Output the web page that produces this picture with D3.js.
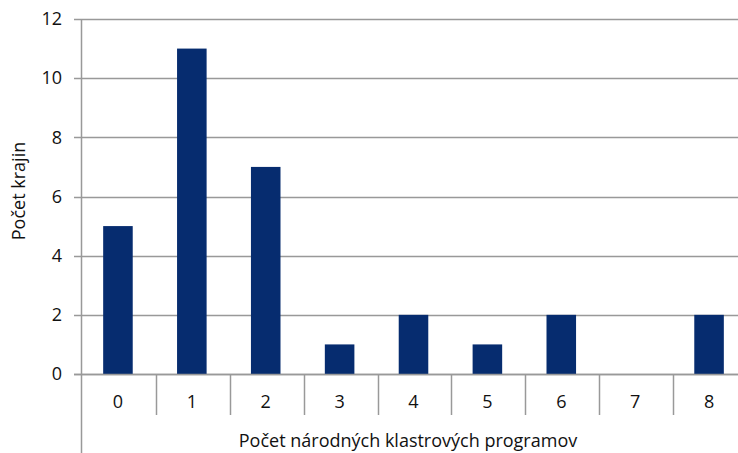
<!DOCTYPE html>
<html>
<head>
<meta charset="utf-8">
<script src="https://cdn.jsdelivr.net/npm/d3@7"></script>
<style>
  body { margin: 0; background: #fff; }
  text { font-family: "Open Sans", "DejaVu Sans", sans-serif; fill: #111; }
</style>
</head>
<body>
<svg id="chart" width="738" height="453"></svg>
<script>
// data
var categories = ["0", "1", "2", "3", "4", "5", "6", "7", "8"];
var counts = [5, 11, 7, 1, 2, 1, 2, 0, 2];
var yTicks = [0, 2, 4, 6, 8, 10, 12];
var xTitle = "Počet národných klastrových programov";
var yTitle = "Počet krajin";

var svg = d3.select("#chart");

var plotLeft = 82, plotRight = 747, plotTop = 19, plotBottom = 374;
var fontSize = "18px";

var x = d3.scaleBand()
    .domain(categories)
    .range([plotLeft, plotRight]);

var y = d3.scaleLinear()
    .domain([0, 12])
    .range([plotBottom, plotTop]);

// gridlines
svg.append("g")
    .selectAll("line")
    .data(yTicks)
    .enter().append("line")
    .attr("x1", plotLeft - 8)
    .attr("x2", plotRight)
    .attr("y1", function(d) { return Math.round(y(d)) + 0.5; })
    .attr("y2", function(d) { return Math.round(y(d)) + 0.5; })
    .style("stroke", "#999")
    .style("stroke-width", 1.5);

// y labels
svg.append("g")
    .selectAll("text")
    .data(yTicks)
    .enter().append("text")
    .attr("x", 62)
    .attr("y", function(d) { return y(d); })
    .attr("dy", "0.35em")
    .attr("text-anchor", "end")
    .style("font-size", fontSize)
    .text(function(d) { return d; });

// bars
var barW = x.bandwidth() * 0.4;
svg.append("g")
    .selectAll("rect")
    .data(counts)
    .enter().append("rect")
    .attr("x", function(d, i) { return x(categories[i]) + (x.bandwidth() - barW) / 2 - 1; })
    .attr("y", function(d) { return y(d); })
    .attr("width", barW)
    .attr("height", function(d) { return y(0) - y(d); })
    .style("fill", "#062c6f");

// category separators below the axis
svg.append("g")
    .selectAll("line")
    .data(categories.slice(1))
    .enter().append("line")
    .attr("x1", function(d) { return Math.round(x(d)) + 0.5; })
    .attr("x2", function(d) { return Math.round(x(d)) + 0.5; })
    .attr("y1", plotBottom)
    .attr("y2", 415)
    .style("stroke", "#999")
    .style("stroke-width", 1.5);

// x axis line over bars
svg.append("line")
    .attr("x1", plotLeft - 8).attr("x2", plotRight)
    .attr("y1", Math.round(y(0)) + 0.5).attr("y2", Math.round(y(0)) + 0.5)
    .style("stroke", "#999")
    .style("stroke-width", 1.5);

// left axis line runs to the bottom
svg.append("line")
    .attr("x1", plotLeft - 0.5).attr("x2", plotLeft - 0.5)
    .attr("y1", plotTop).attr("y2", 453)
    .style("stroke", "#999")
    .style("stroke-width", 1.5);

// x labels
svg.append("g")
    .selectAll("text")
    .data(categories)
    .enter().append("text")
    .attr("x", function(d) { return x(d) + x.bandwidth() / 2 - 1; })
    .attr("y", 402)
    .attr("dy", "0.35em")
    .attr("text-anchor", "middle")
    .style("font-size", fontSize)
    .text(function(d) { return d; });

// titles
svg.append("text")
    .attr("x", 408)
    .attr("y", 441)
    .attr("dy", "0.35em")
    .attr("text-anchor", "middle")
    .style("font-size", fontSize)
    .text(xTitle);

svg.append("text")
    .attr("transform", "translate(19,191) rotate(-90)")
    .attr("dy", "0.35em")
    .attr("text-anchor", "middle")
    .style("font-size", fontSize)
    .text(yTitle);
</script>
</body>
</html>
